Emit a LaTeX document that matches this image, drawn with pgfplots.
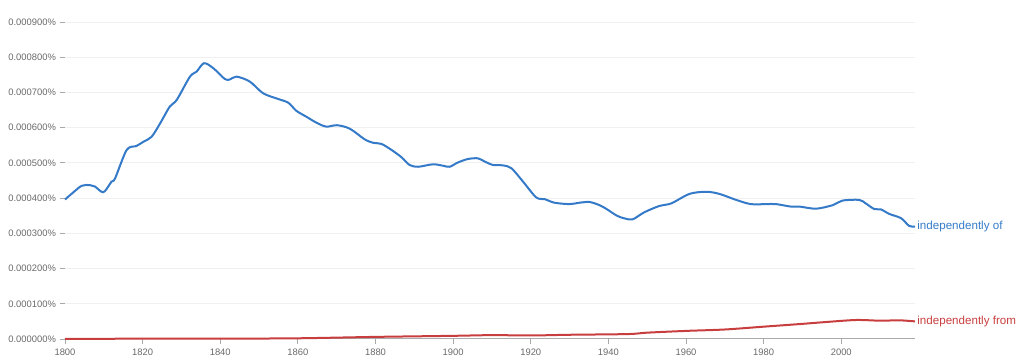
\documentclass[border=0pt]{standalone}
\usepackage{fontspec}
\setmainfont{Liberation Sans}
\usepackage{pgfplots}
\pgfplotsset{compat=1.18}
\definecolor{ngblue}{RGB}{52,122,200}
\definecolor{ngred}{RGB}{200,62,62}
\definecolor{ticktext}{RGB}{105,105,105}
\definecolor{gridc}{RGB}{240,240,240}
\definecolor{axisc}{RGB}{170,170,170}
\begin{document}
\begin{tikzpicture}
\useasboundingbox (-32.5pt,-12.5pt) rectangle (479.5pt,169.5pt);
\begin{axis}[
  at={(0,0)}, anchor=origin,
  scale only axis, width=425pt, height=158.5pt,
  xmin=1800, xmax=2019, ymin=0, ymax=9,
  axis x line*=bottom, axis y line*=left,
  y axis line style={draw=none},
  x axis line style={draw=axisc, line width=0.5pt},
  xtick={1800,1820,...,2000},
  ytick={0,1,...,9},
  yticklabels={0.000000\%,0.000100\%,0.000200\%,0.000300\%,0.000400\%,0.000500\%,0.000600\%,0.000700\%,0.000800\%,0.000900\%},
  tick align=outside, major tick length=2.5pt,
  tick style={draw=axisc, line width=0.4pt},
  ymajorgrids, grid style={draw=gridc, line width=0.5pt},
  tick label style={font=\fontsize{4.7pt}{5pt}\selectfont, text=ticktext},
  /pgf/number format/assume math mode=true,
  /pgf/number format/1000 sep={},
  xticklabel style={yshift=1.2pt},
  yticklabel style={xshift=1.5pt},
  clip=false,
]
\addplot[ngblue, line width=1pt, smooth, tension=0.5] coordinates {
(1800,3.96) (1802,4.15) (1804.3,4.35) (1806.4,4.37) (1807.7,4.33) (1809.4,4.18) (1810.3,4.20)
(1812,4.47) (1812.9,4.56) (1815.9,5.37) (1818.4,5.48) (1820.2,5.60) (1822.3,5.74)
(1824.5,6.12) (1827,6.60) (1828.8,6.79) (1832.2,7.45) (1833.9,7.59) (1835.8,7.83)
(1838.2,7.69) (1841.2,7.38) (1842.5,7.37) (1844.2,7.45) (1847.6,7.31) (1851,6.98)
(1854.5,6.83) (1857.5,6.71) (1859.6,6.48) (1862.2,6.31) (1864.8,6.14) (1867.3,6.03)
(1870.1,6.07) (1873.4,5.97) (1877.2,5.67) (1879.4,5.57) (1881.5,5.54) (1884.1,5.37)
(1886.7,5.16) (1888.8,4.94) (1891,4.89) (1894.8,4.96) (1897.4,4.92) (1899.1,4.89)
(1901.2,5.01) (1903.8,5.11) (1906.4,5.13) (1908.1,5.04) (1910.3,4.94) (1912.8,4.93)
(1915,4.85) (1918,4.47) (1921.4,4.02) (1923.6,3.97) (1926.1,3.87) (1930,3.83)
(1932.6,3.87) (1935.1,3.89) (1937.5,3.81) (1939.4,3.70) (1942.2,3.50) (1944.3,3.42)
(1946.3,3.40) (1949.3,3.60) (1953.2,3.78) (1956.2,3.85) (1960.9,4.12) (1965.2,4.18)
(1968.6,4.12) (1972.9,3.95) (1976.7,3.83) (1980.6,3.83) (1983.2,3.83) (1987,3.76)
(1989.2,3.76) (1993.5,3.70) (1997.8,3.80) (2000.3,3.93) (2004.6,3.95) (2006.3,3.85)
(2008.5,3.69) (2010.2,3.68) (2012.4,3.55) (2015.4,3.43) (2017.5,3.21) (2019,3.19)
};
\addplot[ngred, line width=1pt, smooth, tension=0.5] coordinates {
(1800,0.00) (1820,0.01) (1840,0.01) (1860,0.02) (1880,0.06) (1900,0.09) (1910,0.11)
(1920,0.10) (1930,0.12) (1945,0.14) (1950,0.18) (1960,0.23) (1970,0.27) (1980,0.35)
(1990,0.43) (1997,0.49) (2004,0.54) (2010,0.52) (2015,0.53) (2019,0.50)
};
\node[anchor=west, text=ngblue, font=\fontsize{5.8pt}{7pt}\selectfont, inner sep=1pt] at (axis cs:2019,3.19) {independently of};
\node[anchor=west, text=ngred, font=\fontsize{5.8pt}{7pt}\selectfont, inner sep=1pt] at (axis cs:2019,0.50) {independently from};
\end{axis}
\end{tikzpicture}
\end{document}
